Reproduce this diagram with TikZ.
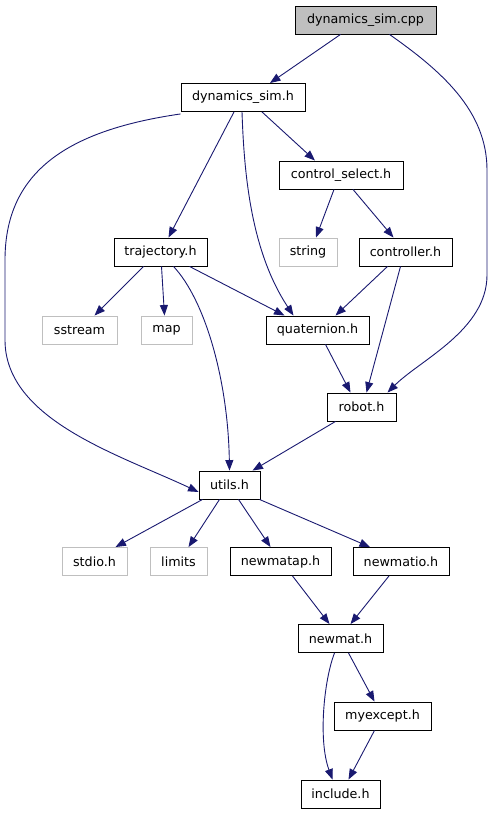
\documentclass[tikz,border=0pt]{standalone}
\usepackage{fontspec}
\setmainfont{DejaVu Sans}
\usetikzlibrary{arrows.meta}
\definecolor{edgecol}{HTML}{191970}
\definecolor{graybox}{HTML}{BFBFBF}
\tikzset{
  box/.style={draw=black, line width=0.9pt, rectangle, minimum height=28pt, inner sep=0pt, font=\fontsize{12.7}{14}\selectfont, fill=white},
  extbox/.style={box, draw=graybox},
  rootbox/.style={box, fill=graybox},
  edge/.style={draw=edgecol, line width=0.9pt, -{Triangle[length=10.5pt,width=8pt]}},
}
\begin{document}
\begin{tikzpicture}[x=1pt,y=-1pt]
\useasboundingbox (0,0) rectangle (493,813);
\node[rootbox, minimum width=141pt] (cpp) at (365.5,20) {dynamics\_sim.cpp};
\node[box, minimum width=124pt] (dynh) at (243,97.5) {dynamics\_sim.h};
\node[box, minimum width=124pt] (cs) at (341,175) {control\_select.h};
\node[box, minimum width=93pt] (traj) at (160.5,252) {trajectory.h};
\node[extbox, minimum width=58pt] (string) at (308,252) {string};
\node[box, minimum width=93pt] (ctrl) at (405.5,252) {controller.h};
\node[extbox, minimum width=75pt] (sstream) at (79.5,330) {sstream};
\node[extbox, minimum width=51pt] (map) at (166.5,330) {map};
\node[box, minimum width=103pt] (quat) at (317.5,330) {quaternion.h};
\node[box, minimum width=69pt] (robot) at (361.5,407) {robot.h};
\node[box, minimum width=61pt] (utils) at (229.5,485) {utils.h};
\node[extbox, minimum width=65pt] (stdio) at (94.5,561.5) {stdio.h};
\node[extbox, minimum width=57pt] (limits) at (178.5,561.5) {limits};
\node[box, minimum width=101pt] (newmatap) at (280.5,561.5) {newmatap.h};
\node[box, minimum width=96pt] (newmatio) at (401,561.5) {newmatio.h};
\node[box, minimum width=85pt] (newmat) at (340.5,638.5) {newmat.h};
\node[box, minimum width=97pt] (myexcept) at (382.5,716) {myexcept.h};
\node[box, minimum width=79pt] (include) at (340.5,794) {include.h};

\draw[edge] ([xshift=-25pt]cpp.south) -- ([xshift=27pt]dynh.north);
\draw[edge] ([xshift=24pt]cpp.south) .. controls (440,70) and (487,110) .. (487,170) -- (487,275) .. controls (487,330) and (420,360) .. ([xshift=26pt]robot.north);
\draw[edge] ([yshift=-2pt]dynh.south west) .. controls (70,130) and (5,170) .. (5,260) -- (5,340) .. controls (5,420) and (120,455) .. ([yshift=-7pt]utils.west);
\draw[edge] ([xshift=-9pt]dynh.south) -- ([xshift=8pt]traj.north);
\draw[edge] ([xshift=-1pt]dynh.south) .. controls (244,170) and (250,250) .. ([xshift=-24pt]quat.north);
\draw[edge] ([xshift=19pt]dynh.south) -- ([xshift=-26pt]cs.north);
\draw[edge] ([xshift=-7pt]cs.south) -- ([xshift=8pt]string.north);
\draw[edge] ([xshift=12pt]cs.south) -- ([xshift=-12pt]ctrl.north);
\draw[edge] ([xshift=-17pt]traj.south) -- ([xshift=15pt]sstream.north);
\draw[edge] ([xshift=1pt]traj.south) -- ([xshift=-2pt]map.north);
\draw[edge] ([xshift=29pt]traj.south) -- ([xshift=-33pt]quat.north);
\draw[edge] ([xshift=13pt]traj.south) .. controls (205,300) and (228,380) .. (utils.north);
\draw[edge] ([xshift=-18pt]ctrl.south) -- ([xshift=18pt]quat.north);
\draw[edge] ([xshift=-5pt]ctrl.south) -- ([xshift=5pt]robot.north);
\draw[edge] ([xshift=8pt]quat.south) -- ([xshift=-11pt]robot.north);
\draw[edge] ([xshift=-26pt]robot.south) -- ([xshift=23pt]utils.north);
\draw[edge] ([xshift=-27pt]utils.south) -- ([xshift=21pt]stdio.north);
\draw[edge] ([xshift=-10pt]utils.south) -- ([xshift=10pt]limits.north);
\draw[edge] ([xshift=9pt]utils.south) -- ([xshift=-10pt]newmatap.north);
\draw[edge] ([xshift=30pt]utils.south) -- ([xshift=-31pt]newmatio.north);
\draw[edge] ([xshift=12pt]newmatap.south) -- ([xshift=-11pt]newmat.north);
\draw[edge] ([xshift=-12pt]newmatio.south) -- ([xshift=10pt]newmat.north);
\draw[edge] ([xshift=-6pt]newmat.south) .. controls (324,680) and (318,740) .. ([xshift=-8pt]include.north);
\draw[edge] ([xshift=8pt]newmat.south) -- ([xshift=-8pt]myexcept.north);
\draw[edge] ([xshift=-8pt]myexcept.south) -- ([xshift=8pt]include.north);
\end{tikzpicture}
\end{document}
